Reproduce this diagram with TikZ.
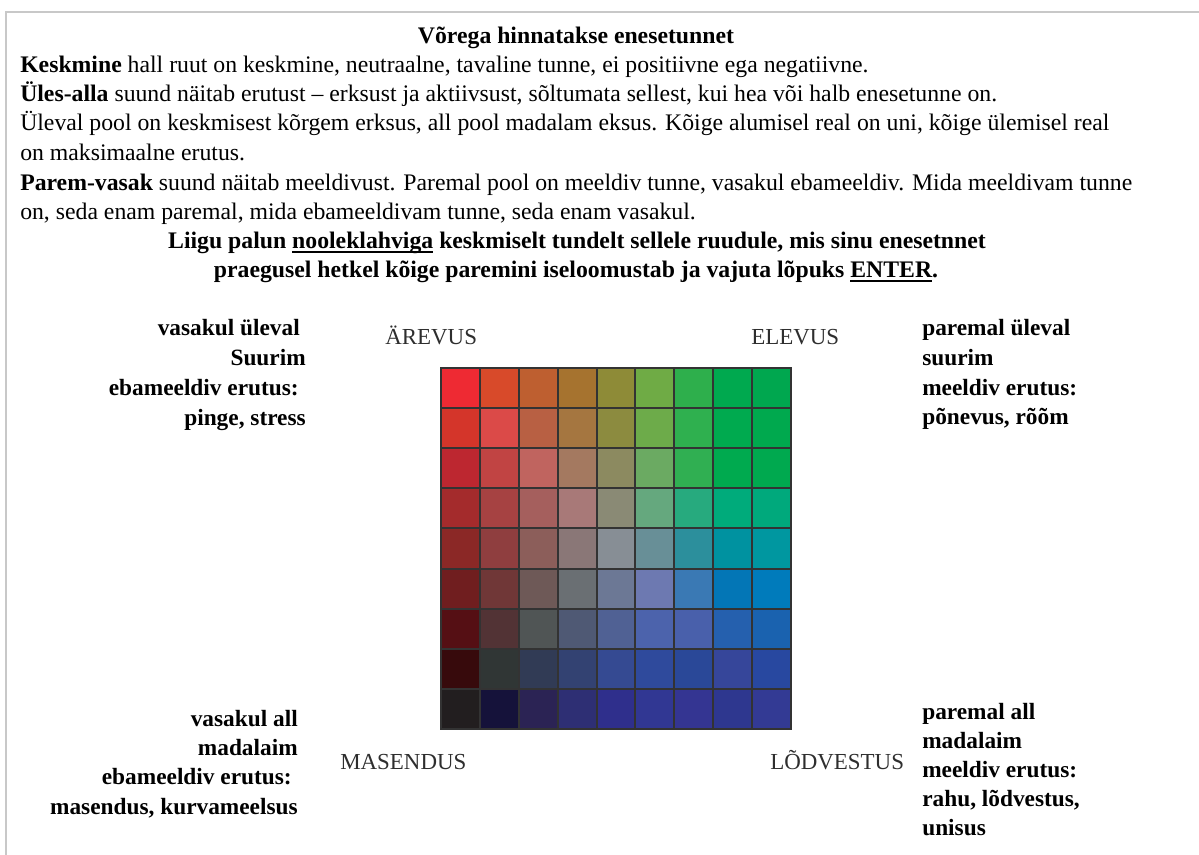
\documentclass[tikz,border=0pt]{standalone}
\usepackage{fontspec}
\setmainfont{Liberation Serif}
\definecolor{framegray}{HTML}{C8C8C8}
\definecolor{gridgray}{HTML}{333333}
\definecolor{moodgray}{HTML}{2E2E2E}
\newcommand\uln[1]{\setbox0\hbox{#1}\rlap{\rule[-3pt]{\wd0}{1.8pt}}\box0\relax}
\tikzset{
  line/.style={anchor=base west, inner sep=0pt, font=\fontsize{17.8}{20}\selectfont},
  midline/.style={anchor=base, inner sep=0pt, font=\fontsize{17.8}{20}\selectfont\bfseries},
  leftlab/.style={anchor=base east, inner sep=0pt, font=\fontsize{17.5}{20}\selectfont\bfseries},
  rightlab/.style={anchor=base west, inner sep=0pt, font=\fontsize{17.5}{20}\selectfont\bfseries},
  mood/.style={anchor=base west, inner sep=0pt, text=moodgray, font=\fontsize{17.2}{20}\selectfont},
  cell/.style={draw=gridgray, line width=1.5}
}
\begin{document}
\begin{tikzpicture}[x=0.75pt, y=-0.75pt]
  \useasboundingbox (0,0) rectangle (1199,855);
  \draw[framegray, line width=1.5] (6,855) |- (1199,12);

  % tekst ylal
  \node[midline] (title) at (576,44) {Võrega hinnatakse enesetunnet};
  \node[line] (l1) at (20,73) {\textbf{Keskmine} hall ruut on keskmine, neutraalne, tavaline tunne, ei positiivne ega negatiivne.};
  \node[line] (l2) at (20,102) {\textbf{Üles-alla} suund näitab erutust – erksust ja aktiivsust, sõltumata sellest, kui hea või halb enesetunne on.};
  \node[line] (l3) at (20,131) {Üleval pool on keskmisest kõrgem erksus, all pool madalam eksus. Kõige alumisel real on uni, kõige ülemisel real};
  \node[line] (l4) at (20,161) {on maksimaalne erutus.};
  \node[line] (l5) at (20,191) {\textbf{Parem-vasak} suund näitab meeldivust. Paremal pool on meeldiv tunne, vasakul ebameeldiv. Mida meeldivam tunne};
  \node[line] (l6) at (20,220) {on, seda enam paremal, mida ebameeldivam tunne, seda enam vasakul.};
  \node[midline] (ask1) at (577,249) {Liigu palun \uln{nooleklahviga} keskmiselt tundelt sellele ruudule, mis sinu enesetnnet};
  \node[midline] (ask2) at (576,278) {praegusel hetkel kõige paremini iseloomustab ja vajuta lõpuks \uln{ENTER}.};

  % ruudustik
  \foreach \row [count=\r from 0] in {
      {EE2A33,D84A2A,BE5F30,A6732F,8E8B37,6FAB45,2EAF4C,00A94F,00A74F},
      {D4352A,DB4A48,B86043,A57640,8C8B3F,6DAB4A,2FB04F,00AA4F,00A94E},
      {BD2730,C14443,C0645F,A47960,8C8A60,6BAA62,30AF52,00AA4F,00A94F},
      {A42B2C,A64242,A55F5D,A87978,8A8A75,65A87E,27AA7E,00AB7B,00A97C},
      {8B2826,8F3E3F,8C5E5A,8A7777,878E95,688F97,2C8F9C,0092A0,0097A0},
      {701E1F,703737,6E5957,6A6F73,6C7895,6D79B1,3A79B4,0376B6,007BBB},
      {550F14,523335,505555,4F5974,506194,4C63AC,4960AB,2560AE,1A62AF},
      {370A0C,303635,313B55,334272,354A92,2F4A9C,2A4898,36469A,2848A0},
      {221E1F,15123A,2B2354,2E2F74,2F2F8C,313793,343592,2E378F,333A94}} {
    \foreach \hex [count=\c from 0] in \row {
      \definecolor{cellcol}{HTML}{\hex}
      \filldraw[cell, fill=cellcol] (441+\c*38.89, 368+\r*40.11) rectangle ++(38.89, 40.11);
    }
  }

  % nurgad
  \node[mood] (arevus) at (385,345) {ÄREVUS};
  \node[mood] (elevus) at (751,345) {ELEVUS};
  \node[mood] (masendus) at (340,769) {MASENDUS};
  \node[mood] (lodvestus) at (770,769) {LÕDVESTUS};

  \node[leftlab] (tl1) at (300,336) {vasakul üleval};
  \node[leftlab] (tl2) at (306,366) {Suurim};
  \node[leftlab] (tl3) at (299,396) {ebameeldiv erutus:};
  \node[leftlab] (tl4) at (306,426) {pinge, stress};

  \node[rightlab] (tr1) at (922,336) {paremal üleval};
  \node[rightlab] (tr2) at (922,366) {suurim};
  \node[rightlab] (tr3) at (922,396) {meeldiv erutus:};
  \node[rightlab] (tr4) at (922,424) {põnevus, rõõm};

  \node[leftlab] (bl1) at (298,726) {vasakul all};
  \node[leftlab] (bl2) at (298,755) {madalaim};
  \node[leftlab] (bl3) at (292,784) {ebameeldiv erutus:};
  \node[leftlab] (bl4) at (298,814) {masendus, kurvameelsus};

  \node[rightlab] (br1) at (922,719) {paremal all};
  \node[rightlab] (br2) at (922,748) {madalaim};
  \node[rightlab] (br3) at (922,777) {meeldiv erutus:};
  \node[rightlab] (br4) at (922,806) {rahu, lõdvestus,};
  \node[rightlab] (br5) at (922,835) {unisus};
\end{tikzpicture}
\end{document}
